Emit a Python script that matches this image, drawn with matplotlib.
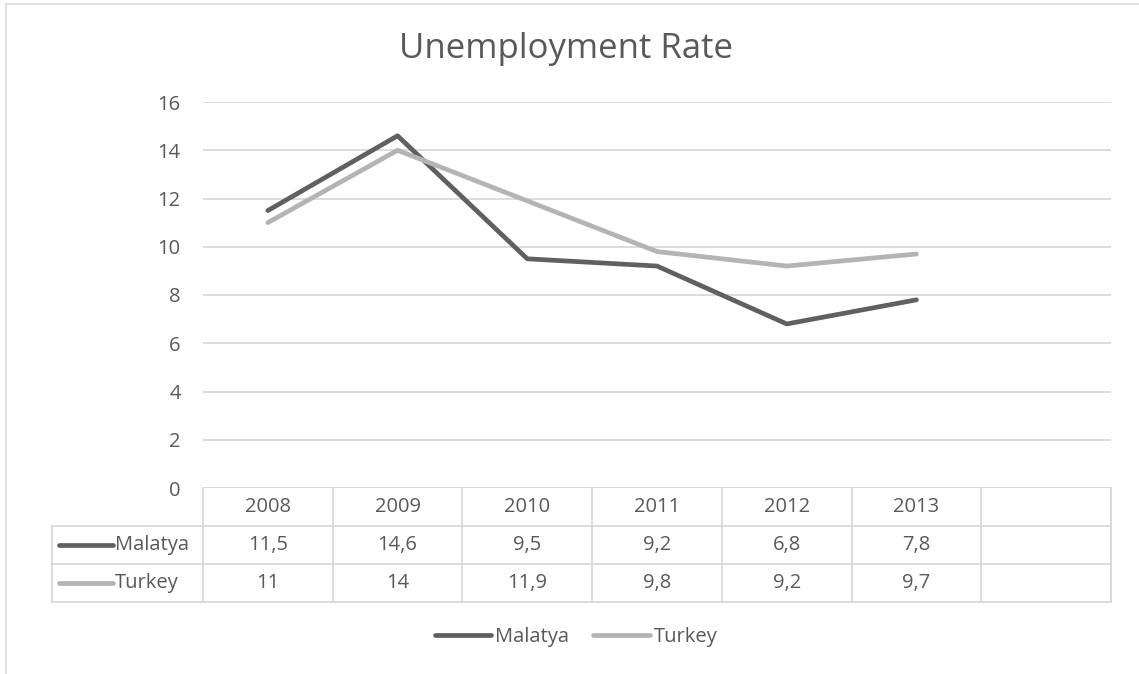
import matplotlib
matplotlib.use("Agg")
import matplotlib.pyplot as plt
from matplotlib.patches import Rectangle

# data
years = ["2008", "2009", "2010", "2011", "2012", "2013"]
malatya = [11.5, 14.6, 9.5, 9.2, 6.8, 7.8]
turkey = [11, 14, 11.9, 9.8, 9.2, 9.7]
series_names = ["Malatya", "Turkey"]
yticks = [0, 2, 4, 6, 8, 10, 12, 14, 16]

# styles
dark = "#606060"
light = "#b4b4b4"
text_c = "#595959"
grid_c = "#d9d9d9"
fs = 14.5
plt.rcParams['font.family'] = ['Open Sans', 'DejaVu Sans']

W, H = 1139, 674
fig = plt.figure(figsize=(W / 100, H / 100), dpi=100)

# outer chart border (extends past the right/bottom edge like the source)
fig.patches.append(Rectangle((6 / W, -0.1), 1.2, 1 - 4 / H + 0.1, transform=fig.transFigure,
                             fill=False, edgecolor=grid_c, linewidth=1.2))

ax = fig.add_axes([203 / W, 1 - 488 / H, (1111 - 203) / W, (488 - 102) / H])
n_slots = len(years) + 1  # excel leaves one empty category column
ax.set_xlim(-0.5, n_slots - 0.5)
ax.set_ylim(0, 16)
ax.set_yticks(yticks)
ax.set_xticks([])
ax.tick_params(axis='y', length=0, labelsize=fs, labelcolor=text_c, pad=16)
for s in ax.spines.values():
    s.set_visible(False)
ax.grid(axis='y', color=grid_c, linewidth=1.3)
ax.set_axisbelow(True)

x = list(range(len(years)))
ax.plot(x, malatya, color=dark, linewidth=3.4, solid_capstyle='round', solid_joinstyle='round', label="Malatya")
ax.plot(x, turkey, color=light, linewidth=3.4, solid_capstyle='round', solid_joinstyle='round', label="Turkey")

fig.text(566 / W, 1 - 49 / H, "Unemployment Rate", ha='center', va='center', fontsize=25, color=text_c)

# data table under the axis
tr = ax.get_xaxis_transform()
rh = 38 / 386
col_px = (1111 - 203) / n_slots
xl = -0.5 - 151 / col_px
lkw = dict(color=grid_c, linewidth=1.3, transform=tr, clip_on=False)
ax.plot([-0.5, n_slots - 0.5], [-rh, -rh], **lkw)
ax.plot([xl, n_slots - 0.5], [-2 * rh, -2 * rh], **lkw)
ax.plot([xl, n_slots - 0.5], [-3 * rh, -3 * rh], **lkw)
ax.plot([xl, -0.5], [-rh, -rh], **lkw)
ax.plot([xl, xl], [-rh, -3 * rh], **lkw)
for i in range(n_slots + 1):
    ax.plot([i - 0.5, i - 0.5], [0, -3 * rh], **lkw)

tkw = dict(transform=tr, ha='center', va='center', fontsize=fs, color=text_c, clip_on=False)
for i, yr in enumerate(years):
    ax.text(i, -0.5 * rh, yr, **tkw)
for r, (vals, name, c) in enumerate(zip([malatya, turkey], series_names, [dark, light])):
    yc = -(1.5 + r) * rh
    for i, v in enumerate(vals):
        ax.text(i, yc, f"{v:g}".replace('.', ','), **tkw)
    ax.plot([xl + 7 / col_px, xl + 61 / col_px], [yc, yc], color=c, linewidth=3.4,
            solid_capstyle='round', transform=tr, clip_on=False)
    ax.text(xl + 63 / col_px, yc, name, transform=tr, ha='left', va='center',
            fontsize=fs, color=text_c, clip_on=False)

leg = fig.legend(loc='center', bbox_to_anchor=(576 / W, 1 - 637 / H), ncol=2, frameon=False,
                 fontsize=fs, handlelength=2.8, handletextpad=0.2, columnspacing=1.2,
                 labelcolor=text_c)

fig.savefig("out.png", dpi=100)
